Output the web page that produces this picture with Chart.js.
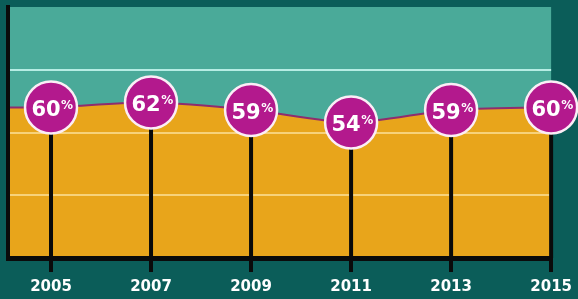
<!DOCTYPE html>
<html><head><meta charset="utf-8">
<style>html,body{margin:0;padding:0;background:#0b5d59;overflow:hidden}#wrap{width:578px;height:299px}</style>
<script src="https://cdn.jsdelivr.net/npm/chart.js@4"></script>
</head><body><div id="wrap"><canvas id="c" width="578" height="299"></canvas></div>
<script>
const years = [2005, 2007, 2009, 2011, 2013, 2015];
const shares = [60, 62, 59, 54, 59, 60];
const yTickValues = [0, 25, 50, 75, 100];

const FONT = '"DejaVu Sans", "Open Sans", sans-serif';
const X_MIN = years[0] - 0.86;

const plotBg = {
  id: 'plotBg',
  beforeDraw(chart) {
    const { ctx, chartArea: a } = chart;
    ctx.save();
    ctx.fillStyle = '#4aaa99';
    ctx.fillRect(a.left, a.top, a.right - a.left, a.bottom - a.top);
    ctx.restore();
  }
};

const markers = {
  id: 'markers',
  afterDraw(chart) {
    const { ctx, chartArea: a } = chart;
    const meta = chart.getDatasetMeta(1);
    ctx.save();
    meta.data.forEach(pt => {
      ctx.fillStyle = '#0a0a0a';
      ctx.fillRect(pt.x - 2, pt.y, 4, a.bottom - pt.y);
    });
    meta.data.forEach((pt, i) => {
      const x = pt.x, y = pt.y;
      ctx.beginPath();
      ctx.arc(x, y, 26, 0, Math.PI * 2);
      ctx.fillStyle = '#b3198d';
      ctx.fill();
      ctx.lineWidth = 2.5;
      ctx.strokeStyle = '#fbeef6';
      ctx.stroke();
      const big = 'bold 21px ' + FONT, small = 'bold 12px ' + FONT;
      const txt = String(shares[i]);
      ctx.font = big; const w1 = ctx.measureText(txt).width;
      ctx.font = small; const w2 = ctx.measureText('%').width;
      const sx = x - (w1 + w2) / 2 + 1;
      ctx.fillStyle = '#ffffff';
      ctx.textBaseline = 'alphabetic';
      ctx.textAlign = 'left';
      ctx.font = big; ctx.fillText(txt, sx, y + 9);
      ctx.font = small; ctx.fillText('%', sx + w1 + 0.5, y + 2);
    });
    ctx.restore();
  }
};

// area: the first value carried to the left edge of the plot
const areaPoints = [{ x: X_MIN, y: shares[0] }].concat(years.map((yr, i) => ({ x: yr, y: shares[i] })));

new Chart(document.getElementById('c'), {
  type: 'line',
  data: {
    datasets: [{
      data: areaPoints,
      borderColor: '#8e2d6e',
      borderWidth: 2,
      backgroundColor: '#e8a51b',
      fill: 'origin',
      tension: 0.25,
      pointRadius: 0
    }, {
      data: years.map((yr, i) => ({ x: yr, y: shares[i] })),
      showLine: false,
      pointRadius: 0,
      fill: false
    }]
  },
  options: {
    responsive: false,
    animation: false,
    devicePixelRatio: 1,
    layout: { padding: { left: 8, right: 23, top: 7, bottom: -3 } },
    plugins: { legend: { display: false }, tooltip: { enabled: false } },
    scales: {
      x: {
        type: 'linear',
        min: X_MIN,
        max: years[years.length - 1],
        afterBuildTicks: s => { s.ticks = years.map(v => ({ value: v })); },
        grid: { display: true, drawOnChartArea: false, drawTicks: true, tickLength: 14, color: '#0a0a0a', lineWidth: 4, z: 1 },
        border: { display: true, color: '#0a0a0a', width: 5, z: 1 },
        ticks: {
          color: '#ffffff', padding: 6, maxRotation: 0, autoSkip: false,
          font: { family: FONT, weight: 'bold', size: 15 },
          callback: v => String(v)
        }
      },
      y: {
        min: 0, max: 100,
        afterBuildTicks: s => { s.ticks = yTickValues.map(v => ({ value: v })); },
        grid: {
          drawTicks: false, lineWidth: 2, z: 1,
          color: c => {
            const v = c.tick && c.tick.value;
            if (v === 0 || v === 100) return 'rgba(0,0,0,0)';
            return v > 65 ? '#b6ede4' : '#f7d27a';
          }
        },
        border: { display: true, color: '#0a0a0a', width: 4, z: 1 },
        ticks: { display: false }
      }
    }
  },
  plugins: [plotBg, markers]
});
</script>
</body></html>
